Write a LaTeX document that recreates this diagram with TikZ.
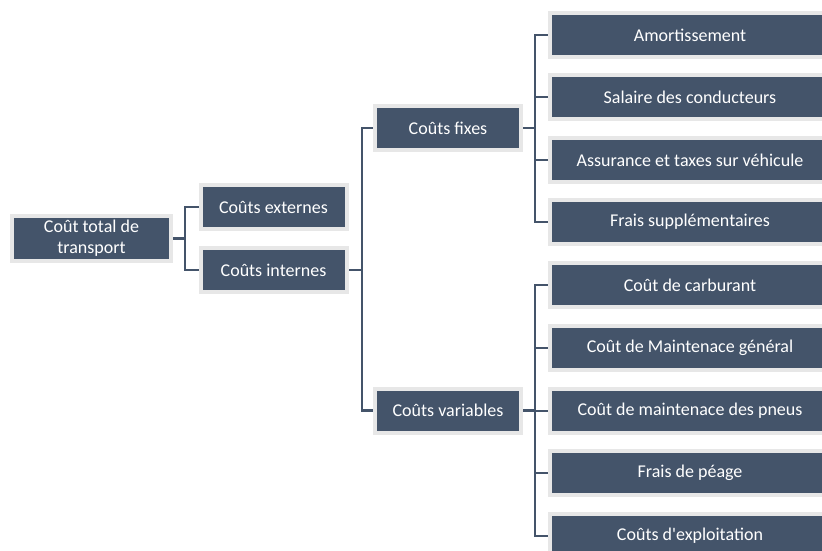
\documentclass[tikz,border=0pt]{standalone}
\usepackage{fontspec}
\setmainfont{Carlito}
\usetikzlibrary{backgrounds}
\definecolor{slate}{HTML}{44546A}
\definecolor{rim}{HTML}{E7E7E7}
\begin{document}
\begin{tikzpicture}[x=1pt,y=-1pt,
  box/.style={fill=slate,draw=rim,line width=4pt,inner sep=0pt,
    minimum height=44pt,text=white,align=center,
    font=\fontsize{18}{21}\selectfont},
  midbox/.style={box,minimum width=146pt},
  leafbox/.style={box,minimum width=280pt},
  link/.style={draw=slate,line width=2.7pt}]
\useasboundingbox (0,0) rectangle (822,551);
\clip (0,0) rectangle (822,551);

% tree nodes
\node[box,minimum width=159pt,minimum height=45pt] (root) at (91.5,238.5) {Coût total de\\transport};
\node[midbox] (ext) at (273.5,207) {Coûts externes};
\node[midbox] (int) at (273.5,270) {Coûts internes};
\node[midbox] (fix) at (448,128) {Coûts fixes};
\node[midbox] (var) at (448,410.5) {Coûts variables};

\node[leafbox] (f1) at (690,35) {Amortissement};
\node[leafbox] (f2) at (690,97) {Salaire des conducteurs};
\node[leafbox] (f3) at (690,160) {Assurance et taxes sur véhicule};
\node[leafbox] (f4) at (690,222) {Frais supplémentaires};
\node[leafbox] (v1) at (690,285) {Coût de carburant};
\node[leafbox] (v2) at (690,348) {Coût de Maintenace général};
\node[leafbox] (v3) at (690,411) {Coût de maintenace des pneus};
\node[leafbox] (v4) at (690,473) {Frais de péage};
\node[leafbox] (v5) at (690,536) {Coûts d\textquotesingle exploitation};

% elbow connectors behind the boxes
\begin{scope}[on background layer]
  \coordinate (j0) at (185,238.5);
  \coordinate (j1) at (362,270);
  \coordinate (j2) at (535,128);
  \coordinate (j3) at (535,410.5);
  \path[link] (root.east) -- (j0);
  \path[link] (j0) |- (ext.west);
  \path[link] (j0) |- (int.west);
  \path[link] (int.east) -- (j1);
  \path[link] (j1) |- (fix.west);
  \path[link] (j1) |- (var.west);
  \path[link] (fix.east) -- (j2);
  \foreach \n in {f1,f2,f3,f4} \path[link] (j2) |- (\n.west);
  \path[link] (var.east) -- (j3);
  \foreach \n in {v1,v2,v3,v4,v5} \path[link] (j3) |- (\n.west);
\end{scope}
\end{tikzpicture}
\end{document}
